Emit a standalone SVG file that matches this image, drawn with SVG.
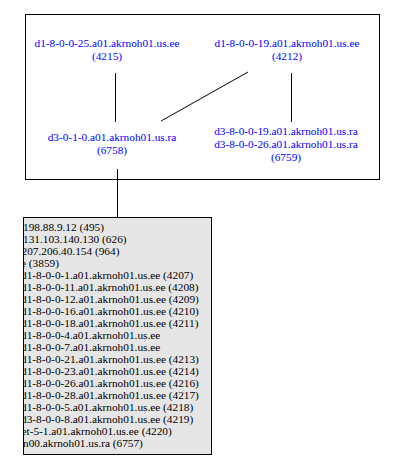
<svg xmlns="http://www.w3.org/2000/svg" width="404" height="465" viewBox="0 0 404 465">
<style>
text{font-family:"Liberation Serif","Times New Roman",serif;font-size:11.3px}
.n{fill:#0000ff;text-anchor:middle}
.l{fill:#000000}
.e{stroke:#000;stroke-width:1;fill:none}
</style>
<defs><clipPath id="bc"><rect x="24" y="218" width="188" height="236"/></clipPath></defs>
<rect x="0" y="0" width="404" height="465" fill="#fff"/>
<g id="cluster"><rect x="25.5" y="14.5" width="354" height="165" fill="none" stroke="#000"/></g>
<g id="connectors">
<line class="e" x1="115.5" y1="73" x2="115.5" y2="122"/>
<line class="e" x1="248" y1="72" x2="161" y2="121"/>
<line class="e" x1="291.5" y1="73" x2="291.5" y2="122"/>
<line class="e" x1="117.5" y1="169" x2="117.5" y2="217"/>
</g>
<g id="n4215"><text class="n" x="107" y="47">d1-8-0-0-25.a01.akrnoh01.us.ee</text><text class="n" x="107" y="60">(4215)</text></g>
<g id="n4212"><text class="n" x="287" y="47">d1-8-0-0-19.a01.akrnoh01.us.ee</text><text class="n" x="287" y="60">(4212)</text></g>
<g id="n6758"><text class="n" x="112" y="141">d3-0-1-0.a01.akrnoh01.us.ra</text><text class="n" x="112" y="154">(6758)</text></g>
<g id="n6759"><text class="n" x="286" y="135">d3-8-0-0-19.a01.akrnoh01.us.ra</text><text class="n" x="286" y="148">d3-8-0-0-26.a01.akrnoh01.us.ra</text><text class="n" x="286" y="161">(6759)</text></g>
<g id="list">
<rect x="23.5" y="217.5" width="188" height="237" fill="#e6e6e6" stroke="#000"/>
<g clip-path="url(#bc)" class="l">
<text x="23" y="230.5">198.88.9.12 (495)</text>
<text x="23" y="242.5">131.103.140.130 (626)</text>
<text x="21.5" y="254.5">207.206.40.154 (964)</text>
<text x="21" y="266.5">e (3859)</text>
<text x="21" y="278.5">d1-8-0-0-1.a01.akrnoh01.us.ee (4207)</text>
<text x="21" y="290.5">d1-8-0-0-11.a01.akrnoh01.us.ee (4208)</text>
<text x="21" y="302.5">d1-8-0-0-12.a01.akrnoh01.us.ee (4209)</text>
<text x="21" y="314.5">d1-8-0-0-16.a01.akrnoh01.us.ee (4210)</text>
<text x="21" y="326.5">d1-8-0-0-18.a01.akrnoh01.us.ee (4211)</text>
<text x="21" y="338.5">d1-8-0-0-4.a01.akrnoh01.us.ee</text>
<text x="21" y="350.5">d1-8-0-0-7.a01.akrnoh01.us.ee</text>
<text x="21" y="362.5">d1-8-0-0-21.a01.akrnoh01.us.ee (4213)</text>
<text x="21" y="374.5">d1-8-0-0-23.a01.akrnoh01.us.ee (4214)</text>
<text x="21" y="386.5">d1-8-0-0-26.a01.akrnoh01.us.ee (4216)</text>
<text x="21" y="398.5">d1-8-0-0-28.a01.akrnoh01.us.ee (4217)</text>
<text x="21" y="410.5">d1-8-0-0-5.a01.akrnoh01.us.ee (4218)</text>
<text x="21" y="422.5">d3-8-0-0-8.a01.akrnoh01.us.ee (4219)</text>
<text x="21.5" y="434.5">et-5-1.a01.akrnoh01.us.ee (4220)</text>
<text x="23" y="446.5">n00.akrnoh01.us.ra (6757)</text>
</g>
</g>
</svg>
